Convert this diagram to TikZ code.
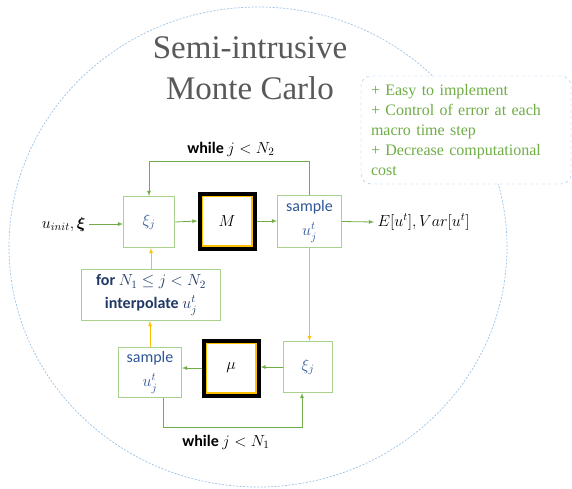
\documentclass[tikz,border=0pt]{standalone}
\usepackage{fix-cm}
\usepackage{amsmath}
\usepackage{fontspec}
\setmainfont{Liberation Serif}
\newfontfamily\timesfont{Liberation Serif}
\newfontfamily\calibrifont{Carlito}
\usetikzlibrary{positioning}
\pgfdeclarelayer{background}
\pgfsetlayers{background,main}
\definecolor{linegreen}{HTML}{70AD47}
\definecolor{boxgreen}{HTML}{A9D18E}
\definecolor{flowyellow}{HTML}{FFC000}
\definecolor{ringblue}{HTML}{9DC3E6}
\definecolor{labelblue}{HTML}{2F5597}
\definecolor{navyblue}{HTML}{1F3864}
\definecolor{titlegray}{HTML}{595959}

\begin{document}
\begin{tikzpicture}[x=1pt,y=-1pt,>=latex,
	stepnode/.style={draw=boxgreen, line width=1pt, text=labelblue, align=center, inner sep=1pt, font=\calibrifont\fontsize{16}{24}\selectfont},
	modelnode/.style={draw=black, line width=4pt, minimum size=55pt, font=\fontsize{16}{18}\selectfont,
		append after command={\pgfextra{\draw[flowyellow, line width=1.2pt] ([shift={(-24.9pt,24.9pt)}]\tikzlastnode.center) rectangle ([shift={(24.9pt,-24.9pt)}]\tikzlastnode.center);}}},
	prosnode/.style={draw=ringblue, dashed, rounded corners=10pt, fill=white, text=linegreen, align=left, text width=190pt, minimum width=210pt, minimum height=108pt, font=\timesfont\fontsize{16}{20}\selectfont},
	looplabel/.style={font=\calibrifont\bfseries\fontsize{16}{18}\selectfont},
	greenline/.style={draw=linegreen, line width=0.8pt, ->},
	yellowline/.style={draw=flowyellow, line width=0.8pt, ->},
	]
	\useasboundingbox (0,0) rectangle (572,488);
	%Nodes
	\node[font=\timesfont\fontsize{33}{41}\selectfont, text=titlegray, align=center] (title) at (250,68) {Semi-intrusive\\Monte Carlo};
	\node[prosnode] (pros) at (466,130) {+ Easy to implement\\+ Control of error at each\\macro time step\\+ Decrease computational\\cost};
	\node[anchor=east, font=\fontsize{16}{18}\selectfont] (init) at (89,224) {$u_{init},\boldsymbol{\xi}$};
	\node[stepnode, minimum width=51pt, minimum height=51pt] (xi1) at (149,222) {$\xi_j$};
	\node[modelnode] (M) at (227,221) {$M$};
	\node[stepnode, minimum width=64pt, minimum height=52pt] (sample1) at (309.5,221.5) {sample\\$u_j^t$};
	\node[anchor=west, font=\fontsize{16}{18}\selectfont] (stats) at (374,222) {$E[u^t],Var[u^t]$};
	\node[stepnode, minimum width=139pt, minimum height=51pt, text=navyblue, font=\calibrifont\fontsize{16}{23}\selectfont] (interp) at (151,295) {\textbf{for} $N_1\leq j<N_2$\\\textbf{interpolate} $u_j^t$};
	\node[stepnode, minimum width=63pt, minimum height=50pt] (sample2) at (150,372.5) {sample\\$u_j^t$};
	\node[modelnode] (mu) at (231,368) {$\mu$};
	\node[stepnode, minimum width=49pt, minimum height=51pt] (xi2) at (308,367) {$\xi_j$};
	\node[looplabel] (while2) at (231,149) {while $j<N_2$};
	\node[looplabel] (while1) at (226,442) {while $j<N_1$};

	\begin{pgfonlayer}{background}
	\draw[ringblue, dash pattern=on 2pt off 1.5pt, line width=0.7pt] (258,247) ellipse [x radius=249pt, y radius=240pt];
	\end{pgfonlayer}

	%Lines
	\draw[greenline] (init.east) -- (init.east -| xi1.west);
	\draw[greenline] (xi1.east) -- (M.west);
	\draw[greenline] (M.east) -- (M.east -| sample1.west);
	\draw[greenline] (sample1.east) -- (stats.west);
	\draw[greenline] (sample1.north) -- ++(0,-34) -| (xi1.north);

	\draw[yellowline] (sample1.south) -- (sample1.south |- xi2.north);
	\draw[yellowline] (interp.north) -- (interp.north |- xi1.south);
	\draw[yellowline] (sample2.north) -- (sample2.north |- interp.south);

	\draw[greenline] (xi2.west) -- (xi2.west -| mu.east);
	\draw[greenline] (mu.west) -- (mu.west -| sample2.east);
	\draw[greenline] ([xshift=13pt]sample2.south) -- ++(0,29) -| ([xshift=-6pt]xi2.south);
\end{tikzpicture}
\end{document}
